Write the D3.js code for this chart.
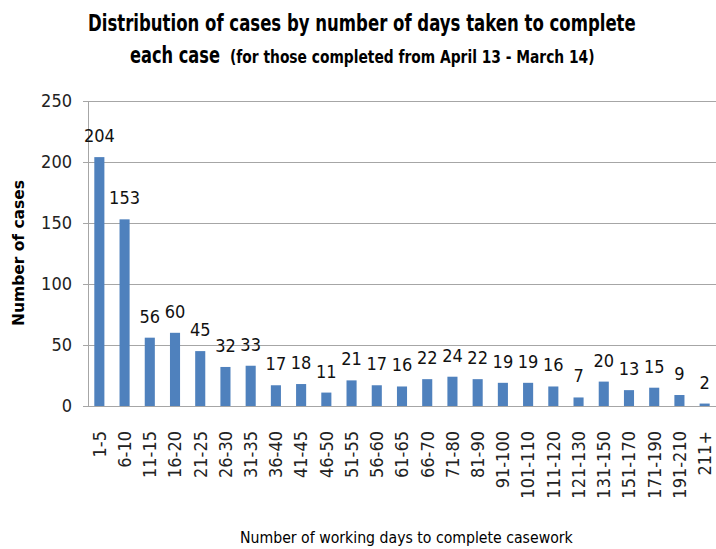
<!DOCTYPE html>
<head>
    <meta charset="utf-8">
</head>
<style>
    body { margin: 0; background: #fff; }
    svg { font-family: "Liberation Sans Narrow", "DejaVu Sans Condensed", "Open Sans", sans-serif; }
    .grid line { stroke: #a6a6a6; stroke-width: 1px; }
    .tick-label { font-size: 18px; fill: #222; }
    .bar-label { font-size: 18px; fill: #111; }
</style>
<svg width="716" height="549" id="chart"></svg>
<script src="https://d3js.org/d3.v7.min.js"></script>
<script>

    var categories = ["1-5", "6-10", "11-15", "16-20", "21-25", "26-30", "31-35", "36-40", "41-45", "46-50",
        "51-55", "56-60", "61-65", "66-70", "71-80", "81-90", "91-100", "101-110", "111-120", "121-130",
        "131-150", "151-170", "171-190", "191-210", "211+"];
    var cases = [204, 153, 56, 60, 45, 32, 33, 17, 18, 11, 21, 17, 16, 22, 24, 22, 19, 19, 16, 7, 20, 13, 15, 9, 2];
    var yTicks = [0, 50, 100, 150, 200, 250];

    var svg = d3.select("#chart");
    var margin = {left: 88, top: 101, right: 0, bottom: 143};
    var width = 716 - margin.left - margin.right;
    var height = 549 - margin.top - margin.bottom;

    var x = d3.scaleBand()
        .domain(categories)
        .range([0, width])
        .paddingInner(0.6)
        .paddingOuter(0.25);

    var y = d3.scaleLinear()
        .domain([0, 250])
        .range([height, 0]);

    var g = svg.append("g")
        .attr("transform", "translate(" + margin.left + "," + margin.top + ")");

    // gridlines
    g.append("g")
        .attr("class", "grid")
        .selectAll("line")
        .data(yTicks)
        .enter().append("line")
        .attr("x1", -5)
        .attr("x2", width)
        .attr("y1", function (d) { return Math.round(y(d)) + 0.5; })
        .attr("y2", function (d) { return Math.round(y(d)) + 0.5; });

    // y axis line
    g.append("line")
        .attr("x1", 0.5).attr("x2", 0.5)
        .attr("y1", 0).attr("y2", height)
        .attr("stroke", "#a6a6a6");

    g.selectAll(".ytick")
        .data(yTicks)
        .enter().append("text")
        .attr("class", "tick-label")
        .attr("x", -16)
        .attr("y", function (d) { return y(d); })
        .attr("dy", "0.35em")
        .attr("text-anchor", "end")
        .text(function (d) { return d; });

    // bars
    g.selectAll(".bar")
        .data(cases)
        .enter().append("rect")
        .attr("class", "bar")
        .attr("x", function (d, i) { return x(categories[i]); })
        .attr("width", x.bandwidth())
        .attr("y", function (d) { return y(d); })
        .attr("height", function (d) { return height - y(d); })
        .attr("fill", "#4f81bd");

    g.selectAll(".bar-label")
        .data(cases)
        .enter().append("text")
        .attr("class", "bar-label")
        .attr("x", function (d, i) { return x(categories[i]) + x.bandwidth() / 2; })
        .attr("y", function (d) { return y(d) - 15; })
        .attr("text-anchor", "middle")
        .text(function (d) { return d; });

    // x labels, rotated
    g.selectAll(".xtick")
        .data(categories)
        .enter().append("text")
        .attr("class", "tick-label")
        .attr("text-anchor", "end")
        .attr("transform", function (d) {
            return "translate(" + (x(d) + x.bandwidth() / 2) + "," + (height + 25) + ") rotate(-90)";
        })
        .attr("dy", "0.35em")
        .text(function (d) { return d; });

    // squeeze a text horizontally to a given width (titles use a narrow face)
    function fitText(txt, tx, ty, w, rot) {
        var natural = txt.node().getComputedTextLength();
        var s = w / natural;
        if (rot) {
            txt.attr("transform", "translate(" + tx + "," + ty + ") rotate(-90) scale(" + s + ",1)");
        } else {
            txt.attr("transform", "translate(" + tx + "," + ty + ") scale(" + s + ",1)");
        }
    }

    fitText(svg.append("text")
        .attr("font-size", 23).attr("font-weight", "bold")
        .text("Distribution of cases by number of days taken to complete"), 88, 31, 548);
    fitText(svg.append("text")
        .attr("font-size", 23).attr("font-weight", "bold")
        .text("each case"), 130, 63, 90);
    fitText(svg.append("text")
        .attr("font-size", 17).attr("font-weight", "bold")
        .text("(for those completed from April 13 - March 14)"), 230, 63, 365);

    fitText(svg.append("text")
        .attr("text-anchor", "middle")
        .attr("font-size", 15).attr("font-weight", "bold")
        .text("Number of cases"), 24, 253, 146, true);

    fitText(svg.append("text")
        .attr("font-size", 16)
        .text("Number of working days to complete casework"), 240, 543, 333);

</script>
